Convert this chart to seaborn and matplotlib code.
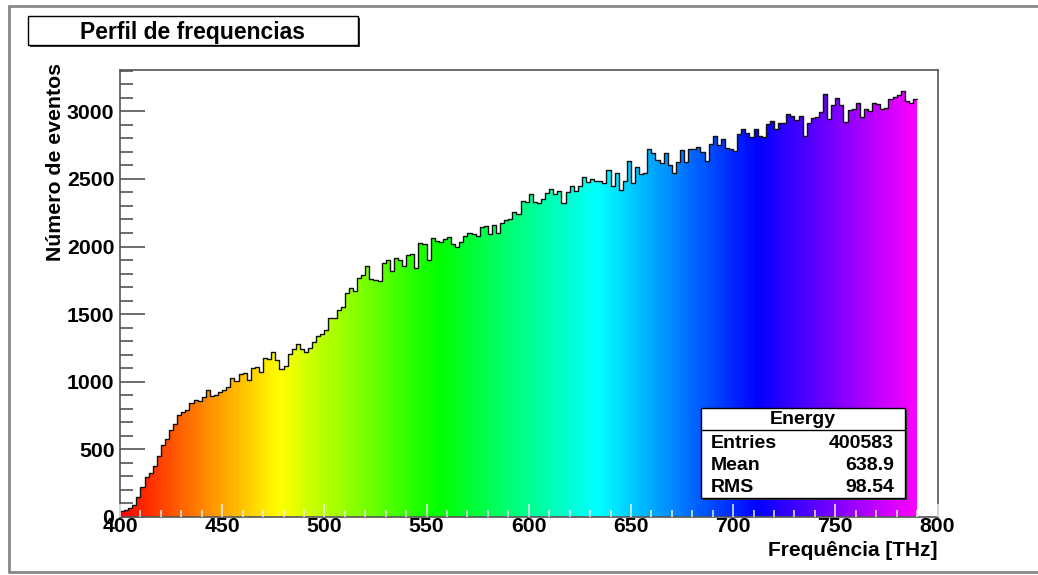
import numpy as np
import pandas as pd
import matplotlib
matplotlib.use("Agg")
import matplotlib.pyplot as plt
import seaborn as sns
from matplotlib.patches import Rectangle
from matplotlib.lines import Line2D
from matplotlib.colors import hsv_to_rgb
from matplotlib.ticker import MultipleLocator, FixedLocator

# ---------------- data ----------------
counts = [
    47, 55, 64, 89, 150, 225, 299, 328, 378, 452,
    533, 575, 640, 686, 756, 780, 793, 842, 862, 855,
    891, 936, 896, 904, 921, 941, 958, 1027, 1002, 1059,
    1064, 1015, 1104, 1112, 1074, 1175, 1168, 1220, 1163, 1091,
    1116, 1205, 1242, 1279, 1242, 1220, 1249, 1291, 1341, 1356,
    1385, 1472, 1472, 1533, 1553, 1657, 1694, 1669, 1768, 1793,
    1854, 1760, 1751, 1743, 1879, 1899, 1817, 1916, 1899, 1854,
    1941, 1948, 1842, 2027, 2015, 1899, 2060, 2040, 2032, 2057,
    2069, 2015, 1998, 2032, 2077, 2101, 2094, 2077, 2146, 2151,
    2096, 2158, 2101, 2175, 2193, 2205, 2254, 2237, 2336, 2328,
    2385, 2328, 2319, 2348, 2393, 2422, 2392, 2410, 2323, 2402,
    2447, 2410, 2447, 2516, 2476, 2501, 2484, 2484, 2472, 2565,
    2447, 2546, 2415, 2484, 2632, 2467, 2590, 2533, 2541, 2724,
    2689, 2640, 2615, 2694, 2600, 2545, 2622, 2714, 2625, 2724,
    2719, 2738, 2699, 2632, 2756, 2817, 2748, 2798, 2731, 2719,
    2706, 2830, 2872, 2837, 2812, 2872, 2817, 2812, 2904, 2928,
    2872, 2911, 2916, 2980, 2968, 2935, 2965, 2817, 2916, 2953,
    2960, 2998, 3126, 2941, 3044, 3101, 3044, 2921, 3010, 3015,
    3064, 2960, 3020, 3002, 3064, 3052, 3020, 3027, 3089, 3109,
    3119, 3151, 3077, 3064, 3089,
]
bin_edges = [float(e) for e in np.linspace(400, 790, len(counts) + 1)]
bin_centers = [(a + b) / 2 for a, b in zip(bin_edges[:-1], bin_edges[1:])]

title_text = "Perfil de frequencias"
x_label = "Frequência [THz]"
y_label = "Número de eventos"
stats_title = "Energy"
stats_names = ["Entries", "Mean", "RMS"]
stats_values = ["400583", "638.9", "98.54"]
x_ticks = [400, 450, 500, 550, 600, 650, 700, 750, 800]
y_ticks = [0, 500, 1000, 1500, 2000, 2500, 3000]

# ---------------- style ----------------
sns.set_theme(style="white")
plt.rcParams['font.family'] = ['Liberation Sans', 'DejaVu Sans']
plt.rcParams['font.weight'] = 'bold'

W, H = 1038, 575
fig = plt.figure(figsize=(W / 100, H / 100), dpi=100)
fig.patch.set_facecolor('white')


def fx(px):
    return px / W


def fy(py):
    return 1 - py / H


ax = fig.add_axes([fx(120), fy(517), fx(937.5) - fx(120), fy(69.5) - fy(517)])
ax.set_facecolor('white')

df = pd.DataFrame({'freq': bin_centers, 'count': counts})
sns.histplot(data=df, x='freq', weights='count', bins=bin_edges, element='bars',
             stat='count', linewidth=0, alpha=1, ax=ax)
for i, p in enumerate(ax.patches):
    hue = (bin_centers[i] - 400) / 390 * 300 / 360
    p.set_facecolor(hsv_to_rgb((hue, 1.0, 1.0)))
    p.set_edgecolor('none')
    p.set_linewidth(0)

sns.histplot(data=df, x='freq', weights='count', bins=bin_edges, element='step',
             fill=False, stat='count', color='#111111', linewidth=1.0, ax=ax)

ax.set_xlim(400, 800)
ax.set_ylim(0, 3309)
ax.set_xlabel('')
ax.set_ylabel('')

ax.xaxis.set_major_locator(FixedLocator(x_ticks))
ax.xaxis.set_minor_locator(MultipleLocator(10))
ax.yaxis.set_major_locator(FixedLocator(y_ticks))
ax.yaxis.set_minor_locator(MultipleLocator(100))
ax.set_xticklabels([str(t) for t in x_ticks])
ax.set_yticklabels([str(t) for t in y_ticks])

ax.tick_params(axis='y', which='major', direction='in', length=18, width=1.1,
               color='#444444', labelsize=15.3, pad=4, left=True)
ax.tick_params(axis='y', which='minor', direction='in', length=9, width=1.1,
               color='#444444', left=True)
ax.tick_params(axis='x', which='major', direction='in', length=9.5, width=1.1,
               color='#f0f0f0', labelsize=15.3, pad=0, bottom=True)
ax.tick_params(axis='x', which='minor', direction='in', length=5, width=1.1,
               color='#f0f0f0', bottom=True)
for lab in ax.get_xticklabels() + ax.get_yticklabels():
    lab.set_fontweight('bold')
    lab.set_color('black')

ax.yaxis.set_zorder(0.5)
ax.xaxis.set_zorder(3)

for s in ax.spines.values():
    s.set_visible(True)
    s.set_color('#555555')
    s.set_linewidth(1.2)

# axis titles
fig.text(fx(937), fy(551), x_label, ha='right', va='center', fontsize=15,
         fontweight='bold', color='black')
fig.text(fx(56), fy(162), y_label, ha='center', va='center', rotation=90,
         fontsize=15.3, fontweight='bold', color='black')

# title box
fig.add_artist(Rectangle((fx(30), fy(47)), fx(360) - fx(30), fy(18) - fy(47),
                         transform=fig.transFigure, facecolor='#333333',
                         edgecolor='none', zorder=5))
fig.add_artist(Rectangle((fx(28), fy(45)), fx(358) - fx(28), fy(16) - fy(45),
                         transform=fig.transFigure, facecolor='white',
                         edgecolor='black', linewidth=1, zorder=6))
fig.text(fx(193), fy(32), title_text, ha='center', va='center', fontsize=16.5,
         fontweight='bold', color='black', zorder=7)

# stats box
fig.add_artist(Rectangle((fx(703), fy(500)), fx(907) - fx(703), fy(410) - fy(500),
                         transform=fig.transFigure, facecolor='#333333',
                         edgecolor='none', zorder=5))
fig.add_artist(Rectangle((fx(701), fy(498)), fx(905) - fx(701), fy(408) - fy(498),
                         transform=fig.transFigure, facecolor='white',
                         edgecolor='black', linewidth=1, zorder=6))
fig.add_artist(Line2D([fx(701), fx(905)], [fy(430), fy(430)], transform=fig.transFigure,
                      color='black', linewidth=1, zorder=7))
fig.text(fx(803), fy(419), stats_title, ha='center', va='center', fontsize=14,
         fontweight='bold', color='black', zorder=8)
for row_y, name, val in zip([444, 466, 488], stats_names, stats_values):
    fig.text(fx(711), fy(row_y), name, ha='left', va='center', fontsize=14,
             fontweight='bold', color='black', zorder=8)
    fig.text(fx(894), fy(row_y), val, ha='right', va='center', fontsize=14,
             fontweight='bold', color='black', zorder=8)

# canvas frame lines
frame_kw = dict(transform=fig.transFigure, color='#888888', linewidth=2, zorder=9)
fig.add_artist(Line2D([fx(9), fx(1038)], [fy(5.7), fy(5.7)], **frame_kw))
fig.add_artist(Line2D([fx(9), fx(9)], [fy(5.7), fy(572)], **frame_kw))
fig.add_artist(Line2D([fx(9), fx(1038)], [fy(572), fy(572)], **frame_kw))

fig.savefig("out.png", dpi=100, facecolor='white')
